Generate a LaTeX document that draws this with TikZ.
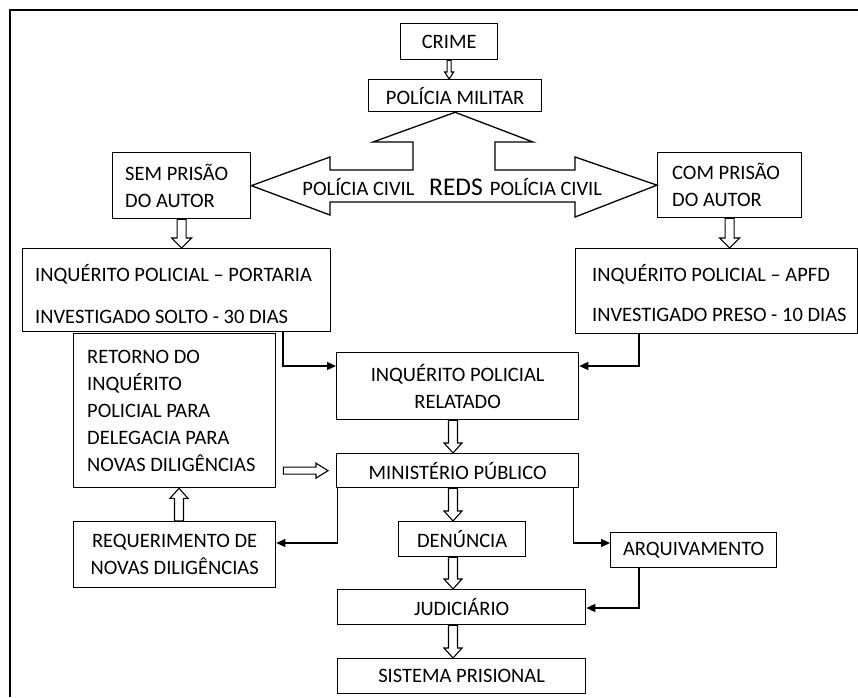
\documentclass[tikz,border=0pt]{standalone}
\usepackage{fontspec}
\setmainfont{Carlito}
\usetikzlibrary{arrows.meta,calc}
\newcommand\fs{\fontsize{20.5}{27}\selectfont}
% #1 shaft half width, #2 head half width, #3 head length, #4 start, #5 end
\newcommand\hollowarrow[5]{%
  \coordinate (hS) at (#4);
  \coordinate (hE) at (#5);
  \coordinate (hH) at ($(hE)!#3!(hS)$);
  \draw[hollow] ($(hS)!#1!90:(hE)$) -- ($(hH)!#1!90:(hE)$) -- ($(hH)!#2!90:(hE)$) -- (hE)
    -- ($(hH)!#2!-90:(hE)$) -- ($(hH)!#1!-90:(hE)$) -- ($(hS)!#1!-90:(hE)$) -- cycle;}
\begin{document}
\begin{tikzpicture}[x=1pt,y=-1pt,
  box/.style={draw, line width=1.3pt, inner sep=0pt, anchor=north west, align=center, font=\fs},
  txt/.style={inner sep=0pt, align=left, anchor=west, font=\fs},
  conn/.style={line width=1.3pt, -{Triangle[length=9pt,width=8pt]}},
  hollow/.style={draw, line width=1.1pt, line join=miter},
  bigarrow/.style={draw, line width=1.3pt, line join=miter}]
\useasboundingbox (0,0) rectangle (858,697);
% outer frame
\draw[line width=2.5pt] (10,697) -- (10,10) -- (858,10);
% boxes
\node[box, minimum width=97pt, minimum height=36pt] (crime) at (400,23) {CRIME};
\node[box, minimum width=173pt, minimum height=32pt] (pm) at (368,79) {POLÍCIA MILITAR};
\node[box, minimum width=138pt, minimum height=66pt] (sem) at (112,152) {};
\node[box, minimum width=144pt, minimum height=65pt] (com) at (657,152) {};
\node[box, minimum width=308pt, minimum height=83pt] (ipp) at (22,248) {};
\node[box, minimum width=282pt, minimum height=85pt] (ipa) at (575,248) {};
\node[box, minimum width=202pt, minimum height=154pt] (ret) at (73,333) {};
\node[box, minimum width=242pt, minimum height=67pt] (ipr) at (336,352) {INQUÉRITO POLICIAL\\RELATADO};
\node[box, minimum width=242pt, minimum height=34pt] (mp) at (336,453) {MINISTÉRIO PÚBLICO};
\node[box, minimum width=202pt, minimum height=66pt] (req) at (73,521) {REQUERIMENTO DE\\NOVAS DILIGÊNCIAS};
\node[box, minimum width=127pt, minimum height=35pt] (den) at (398,521) {DENÚNCIA};
\node[box, minimum width=166pt, minimum height=35pt] (arq) at (610,532) {ARQUIVAMENTO};
\node[box, minimum width=248pt, minimum height=35pt] (jud) at (337,589) {JUDICIÁRIO};
\node[box, minimum width=248pt, minimum height=35pt] (sis) at (337,658) {SISTEMA PRISIONAL};
% left-aligned texts
\node[txt] (semt) at ($(sem.west)+(13,0)$) {SEM PRISÃO\\DO AUTOR};
\node[txt] (comt) at ($(com.west)+(15,0)$) {COM PRISÃO\\DO AUTOR};
\node[txt] (ippt) at ($(ipp.west)+(13,4)$) {INQUÉRITO POLICIAL – PORTARIA\\[15pt]INVESTIGADO SOLTO - 30 DIAS};
\node[txt] (ipat) at ($(ipa.west)+(17,2)$) {INQUÉRITO POLICIAL – APFD\\[13pt]INVESTIGADO PRESO - 10 DIAS};
\node[txt] (rett) at ($(ret.west)+(14,0)$) {RETORNO DO\\INQUÉRITO\\POLICIAL PARA\\DELEGACIA PARA\\NOVAS DILIGÊNCIAS};
% big double arrow from Polícia Militar
\draw[bigarrow] (pm.south) -- (533,142) -- (495,142) -- (495,170) -- (575,170) -- (575,157)
  -- (com.west) -- (575,217) -- (575,202) -- (330,202) -- (330,215) -- (sem.east)
  -- (330,157) -- (330,170) -- (413,170) -- (413,142) -- (373,142) -- cycle;
\node[anchor=base, font=\fs, inner sep=0pt] (pc1) at (358.5,195) {POLÍCIA CIVIL};
\node[anchor=base, inner sep=0pt, font=\fontsize{25.5}{30}\selectfont] (reds) at (456,195) {REDS};
\node[anchor=base, font=\fs, inner sep=0pt] (pc2) at (546,195) {POLÍCIA CIVIL};
% hollow arrows
\coordinate (ax) at (453,0);
\hollowarrow{2pt}{4.5pt}{7pt}{crime.south}{crime.south |- pm.north}
\hollowarrow{4.5pt}{10pt}{10pt}{sem.south}{sem.south |- ipp.north}
\hollowarrow{4.5pt}{10pt}{10pt}{com.south}{com.south |- ipa.north}
\hollowarrow{4.5pt}{9pt}{10pt}{ipr.south -| ax}{mp.north -| ax}
\hollowarrow{4.5pt}{9pt}{10pt}{mp.south -| ax}{den.north -| ax}
\hollowarrow{4.5pt}{9pt}{10pt}{den.south -| ax}{jud.north -| ax}
\hollowarrow{4.5pt}{9pt}{10pt}{jud.south -| ax}{sis.north -| ax}
\hollowarrow{3.5pt}{7.5pt}{12pt}{$(ret.east |- mp.west)+(7,0)$}{$(mp.west)+(-8,0)$}
\hollowarrow{4.5pt}{9pt}{10pt}{$(req.north west)+(106,0)$}{$(ret.south west)+(106,0)$}
% connectors
\draw[conn] ($(ipp.south west)+(261,0)$) |- ($(ipr.north west)+(0,14)$);
\draw[conn] ($(ipa.south west)+(64,0)$) |- ($(ipr.north east)+(0,14)$);
\draw[conn] ($(mp.south west)+(1.5,0)$) |- ($(req.north east)+(0,22)$);
\draw[conn] ($(mp.south east)+(-6,0)$) |- ($(arq.north west)+(0,11)$);
\draw[conn] ($(arq.south west)+(29,0)$) |- ($(jud.north east)+(0,19)$);
\end{tikzpicture}
\end{document}
